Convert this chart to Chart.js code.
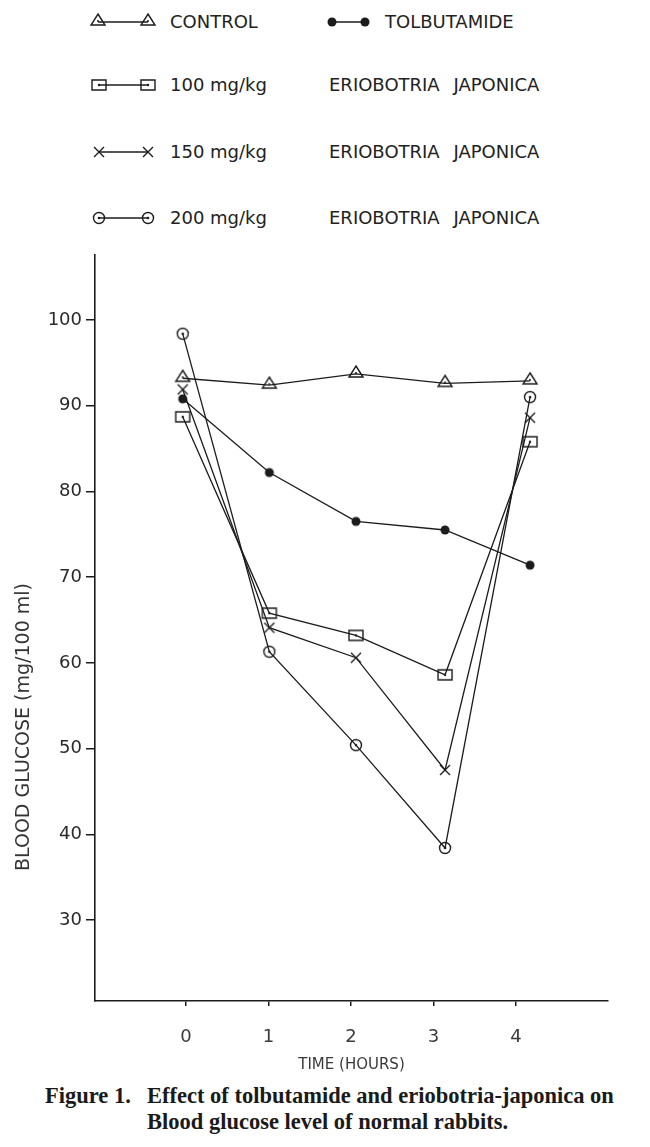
<!DOCTYPE html><html lang="en"><head><meta charset="UTF-8">
<title>Figure 1</title>
<script src="https://cdn.jsdelivr.net/npm/chart.js"></script>
<style>
    body {
        margin: 0;
        background: #fff;
        color: #222;
        font-family: "DejaVu Sans", sans-serif;
    }
    .page {
        position: relative;
        width: 650px;
        height: 1147px;
        overflow: hidden;
    }
    .lrow {
        position: absolute;
        left: 0;
        height: 24px;
        width: 650px;
        font-size: 18px;
        line-height: 24px;
    }
    .lrow canvas, .lrow span {
        position: absolute;
        top: 0;
    }
    .lrow .plant {
        word-spacing: 8px;
    }
    #chart {
        position: absolute;
        left: 0;
        top: 240px;
    }
    #ytitle {
        position: absolute;
        left: 22px;
        top: 727px;
        transform: translate(-50%, -50%) rotate(-90deg);
        white-space: nowrap;
        font-size: 19px;
        color: #333;
    }
    .caption {
        position: absolute;
        left: 45px;
        top: 1083px;
        font-family: "Liberation Serif", serif;
        font-weight: bold;
        font-size: 22.5px;
        line-height: 26px;
        color: #1a1a1a;
        display: flex;
    }
    .caption .num {
        width: 102px;
    }
</style>
</head>
<body>
<div class="page">
    <div id="legend"></div>
    <canvas id="chart" width="650" height="840"></canvas>
    <div id="ytitle">BLOOD GLUCOSE (mg/100 ml)</div>
    <div class="caption">
        <div class="num">Figure 1.</div>
        <div>Effect of tolbutamide and eriobotria-japonica on<br>Blood glucose level of normal rabbits.</div>
    </div>
</div>
<script>
    // values
    const hours = [-0.04, 1.01, 2.06, 3.14, 4.17];
    const xTicks = [0, 1, 2, 3, 4];
    const yTicks = [30, 40, 50, 60, 70, 80, 90, 100];
    const control = [93.2, 92.4, 93.7, 92.6, 92.9];
    const tolbutamide = [90.8, 82.2, 76.5, 75.5, 71.4];
    const dose100 = [88.7, 65.8, 63.2, 58.6, 85.8];
    const dose150 = [91.9, 64.1, 60.6, 47.5, 88.6];
    const dose200 = [98.4, 61.3, 50.4, 38.4, 91.0];
    const seriesNames = ["CONTROL", "TOLBUTAMIDE", "100 mg/kg", "150 mg/kg", "200 mg/kg"];
    const plantName = "ERIOBOTRIA JAPONICA";

    const ink = "#1c1c1c";

    function marker(kind) {
        let c = document.createElement("canvas");
        c.width = 20; c.height = 20;
        let g = c.getContext("2d");
        let m = 10;
        g.strokeStyle = ink; g.fillStyle = ink; g.lineWidth = 1.4;
        g.beginPath();
        if (kind === "triangle") {
            g.moveTo(m, m - 8); g.lineTo(m + 7, m + 3); g.lineTo(m - 7, m + 3); g.closePath();
            g.stroke();
            g.beginPath(); g.arc(m, m - 1, 1, 0, Math.PI * 2); g.fill();
        } else if (kind === "dot") {
            g.arc(m, m, 4.5, 0, Math.PI * 2); g.fill();
        } else if (kind === "square") {
            g.rect(m - 7, m - 5, 14, 10); g.stroke();
            g.beginPath(); g.arc(m, m, 1.2, 0, Math.PI * 2); g.fill();
        } else if (kind === "cross") {
            g.moveTo(m - 5, m - 5); g.lineTo(m + 5, m + 5);
            g.moveTo(m + 5, m - 5); g.lineTo(m - 5, m + 5); g.stroke();
        } else {
            g.arc(m, m, 5.5, 0, Math.PI * 2); g.stroke();
            g.beginPath(); g.arc(m, m, 1.3, 0, Math.PI * 2); g.fill();
        }
        return c;
    }

    const styles = ["triangle", "dot", "square", "cross", "ring"].map(marker);
    const values = [control, tolbutamide, dose100, dose150, dose200];

    // legend: marker-line-marker then the name
    function legendSwatch(style, w, a, b) {
        let c = document.createElement("canvas");
        c.width = w; c.height = 24;
        let g = c.getContext("2d");
        g.strokeStyle = ink; g.lineWidth = 1.4;
        g.beginPath(); g.moveTo(a, 12); g.lineTo(b, 12); g.stroke();
        g.drawImage(style, a - 10, 2);
        g.drawImage(style, b - 10, 2);
        return c;
    }
    const rowTops = [10, 73, 140, 206];
    const legend = document.getElementById("legend");
    function addRow(top, parts) {
        let row = document.createElement("div");
        row.className = "lrow";
        row.style.top = top + "px";
        parts.forEach(p => {
            p.el.style.left = p.x + "px";
            row.appendChild(p.el);
        });
        legend.appendChild(row);
    }
    function span(text, cls) {
        let s = document.createElement("span");
        s.textContent = text;
        if (cls) s.className = cls;
        return s;
    }
    addRow(rowTops[0], [
        {el: legendSwatch(styles[0], 76, 13, 63), x: 85},
        {el: span(seriesNames[0]), x: 170},
        {el: legendSwatch(styles[1], 56, 12, 45), x: 320},
        {el: span(seriesNames[1]), x: 385}
    ]);
    for (let i = 2; i < 5; i++) {
        addRow(rowTops[i - 1], [
            {el: legendSwatch(styles[i], 76, 14, 63), x: 85},
            {el: span(seriesNames[i]), x: 170},
            {el: span(plantName, "plant"), x: 329}
        ]);
    }

    const datasets = values.map((vals, i) => ({
        label: seriesNames[i],
        data: vals.map((v, j) => ({x: hours[j], y: v})),
        borderColor: ink,
        borderWidth: 1.3,
        pointStyle: styles[i],
        pointRadius: 5,
        fill: false,
        tension: 0
    }));

    const tickFont = {family: "DejaVu Sans", size: 18};
    new Chart(document.getElementById("chart").getContext("2d"), {
        type: "line",
        data: {datasets: datasets},
        options: {
            responsive: false,
            animation: false,
            layout: {padding: {top: 15, right: 42, left: 0, bottom: 6}},
            plugins: {legend: {display: false}, tooltip: {enabled: false}},
            scales: {
                x: {
                    type: "linear",
                    min: -1.103,
                    max: 5.115,
                    afterBuildTicks: s => { s.ticks = xTicks.map(v => ({value: v})); },
                    afterFit: s => { s.height = 73; },
                    grid: {drawOnChartArea: false, tickLength: 5, color: ink, lineWidth: 1.5},
                    border: {color: ink, width: 1.6},
                    ticks: {color: "#3a3a3a", font: tickFont, padding: 21, maxRotation: 0, autoSkip: false},
                    title: {display: true, text: "TIME (HOURS)", color: "#3a3a3a",
                            font: {family: "DejaVu Sans", size: 15}, padding: {top: 0, bottom: 0}}
                },
                y: {
                    min: 20.55,
                    max: 107.58,
                    afterBuildTicks: s => { s.ticks = yTicks.map(v => ({value: v})); },
                    afterFit: s => { s.width = 95; },
                    grid: {drawOnChartArea: false, tickLength: 9, color: ink, lineWidth: 1.5},
                    border: {color: ink, width: 1.6},
                    ticks: {color: "#2a2a2a", font: tickFont, padding: 4, autoSkip: false}
                }
            }
        }
    });
</script>
</body>
</html>
